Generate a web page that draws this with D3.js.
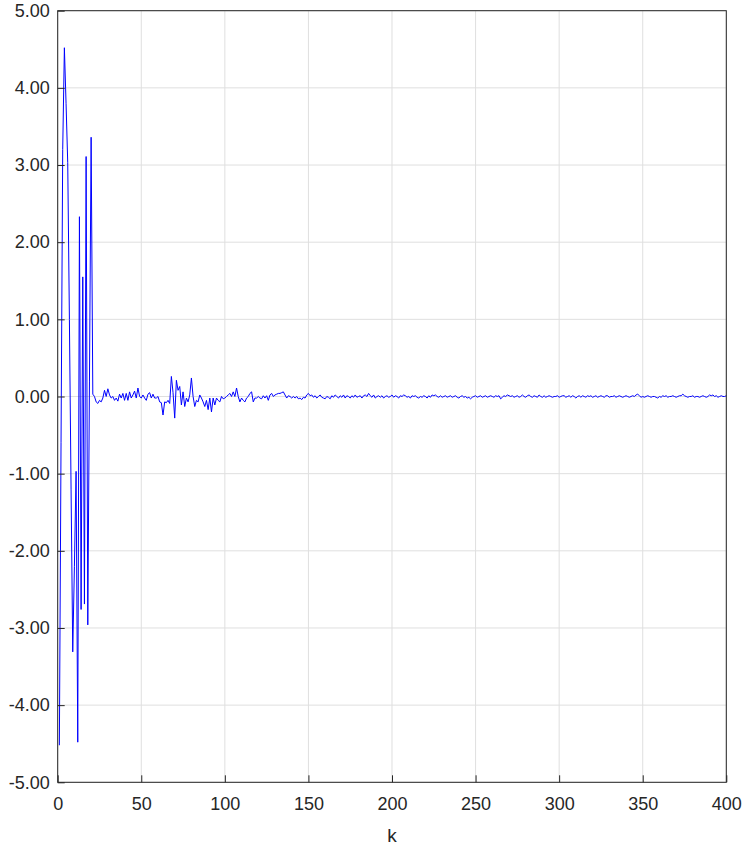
<!DOCTYPE html>
<html>
<head>
    <meta charset="utf-8">
    <title>Error signal</title>
    <script src="https://d3js.org/d3.v7.min.js"></script>
    <style>
        body { margin: 0; background: #fff; }
        .tick text { font-family: "Liberation Sans", Arial, sans-serif; font-size: 18px; fill: #262626; }
        .axis path, .axis line { stroke: #262626; }
        .grid line { stroke: #dfdfdf; stroke-width: 1px; }
        .label { font-family: "Liberation Sans", Arial, sans-serif; font-size: 19px; fill: #262626; }
    </style>
</head>
<body>
    <div id="chart"></div>

    <script>
        // k = 1..21, large start-up oscillations
        const errTransient = [-4.52, -0.60, 3.20, 4.52, 3.80, 3.03, 1.00, -1.20, -3.31, -2.20,
                              -0.97, -4.48, 2.33, -2.76, 1.55, -2.69, 3.11, -2.96, 0.20, 3.36,
                              0.03];
        // k = 22..152, settling
        const errSettling = [0.00, -0.07, -0.09, -0.05, -0.07, -0.02, 0.08, 0.00, 0.10, 0.02,
                             -0.02, 0.00, -0.05, -0.02, -0.06, 0.03, -0.02, 0.04, -0.05, 0.04,
                             -0.05, 0.06, -0.02, 0.02, 0.07, -0.02, 0.11, 0.00, -0.02, 0.02,
                             -0.02, -0.05, 0.03, 0.05, -0.02, 0.03, -0.02, -0.02, 0.00, -0.07,
                             -0.08, -0.24, -0.07, -0.08, -0.05, -0.09, 0.26, 0.05, -0.28, 0.21,
                             0.08, 0.13, -0.11, 0.06, -0.13, -0.02, -0.07, 0.02, 0.24, 0.00,
                             -0.13, -0.05, -0.07, 0.02, -0.02, -0.07, -0.13, -0.05, -0.17, -0.02,
                             -0.20, -0.02, -0.11, -0.02, -0.05, -0.07, 0.00, -0.03, -0.02, 0.00,
                             0.02, 0.04, 0.00, 0.06, 0.00, 0.11, 0.00, -0.07, -0.02, -0.05,
                             -0.07, -0.02, 0.00, 0.04, 0.06, -0.07, -0.02, -0.02, 0.00, -0.02,
                             -0.03, 0.01, -0.02, 0.01, -0.05, 0.02, 0.04, 0.00, 0.02, 0.03,
                             0.04, 0.04, 0.05, 0.06, 0.02, -0.02, 0.01, 0.00, -0.02, 0.00,
                             -0.02, 0.00, -0.03, -0.02, -0.04, -0.01, -0.02, 0.02, 0.04, 0.01,
                             0.02];
        // k = 153..400, steady state
        const errSteady = [-0.01, 0.01, -0.02, 0.00, 0.02, -0.01, -0.02, -0.03, 0.00, -0.01,
                           -0.03, 0.01, -0.01, 0.02, 0.00, -0.02, 0.01, -0.01, 0.02, -0.02,
                           0.01, 0.00, -0.02, 0.01, -0.01, 0.02, -0.01, 0.00, 0.01, -0.02,
                           0.01, 0.02, 0.00, 0.04, 0.01, -0.01, 0.02, -0.02, 0.00, 0.01,
                           -0.01, 0.01, -0.02, 0.00, 0.01, -0.01, 0.00, 0.02, -0.01, 0.01,
                           0.00, -0.02, 0.01, 0.00, 0.02, 0.01, -0.01, 0.00, -0.02, 0.01,
                           0.00, 0.01, -0.01, -0.02, 0.00, -0.01, 0.01, 0.00, -0.02, 0.01,
                           -0.01, 0.02, 0.01, 0.02, 0.00, -0.01, 0.01, -0.01, 0.00, 0.01,
                           -0.01, 0.00, 0.01, -0.01, 0.00, 0.01, -0.01, -0.02, 0.00, 0.01,
                           -0.01, 0.00, -0.02, -0.01, -0.03, -0.01, 0.00, 0.01, -0.01, 0.00,
                           0.01, -0.01, 0.00, 0.01, -0.01, 0.00, 0.01, 0.00, -0.01, 0.01,
                           0.00, 0.01, -0.03, -0.01, 0.01, 0.00, 0.02, 0.01, 0.00, 0.01,
                           -0.01, 0.00, 0.01, -0.01, 0.00, 0.02, 0.00, -0.01, 0.01, 0.02,
                           0.00, -0.01, 0.01, 0.00, -0.01, 0.02, 0.00, -0.01, 0.01, -0.01,
                           0.00, 0.01, 0.00, -0.01, 0.00, 0.00, 0.01, -0.01, 0.00, 0.01,
                           0.01, -0.01, 0.00, 0.01, -0.01, 0.01, 0.00, -0.02, 0.00, 0.01,
                           -0.01, 0.01, 0.00, -0.01, 0.01, 0.00, 0.01, -0.01, 0.00, 0.01,
                           -0.01, 0.00, 0.01, 0.00, -0.01, 0.01, 0.01, -0.01, 0.00, 0.00,
                           0.01, -0.01, 0.00, 0.01, 0.00, -0.01, 0.00, 0.01, 0.00, -0.01,
                           0.00, 0.01, 0.00, 0.02, 0.03, 0.01, -0.01, 0.00, -0.01, 0.00,
                           0.01, 0.00, -0.01, 0.00, 0.00, -0.01, -0.02, 0.00, -0.01, 0.01,
                           0.00, 0.01, -0.01, 0.00, 0.00, 0.01, 0.00, -0.01, 0.00, 0.01,
                           0.01, 0.03, 0.01, 0.00, -0.01, 0.00, 0.00, 0.01, -0.01, 0.00,
                           0.00, -0.01, 0.00, 0.01, 0.00, -0.01, 0.00, 0.02, 0.01, 0.02,
                           0.00, 0.01, -0.01, 0.00, 0.01, 0.00, 0.00, 0.01];

        const xTicks = [0, 50, 100, 150, 200, 250, 300, 350, 400];
        const yTicks = [-5, -4, -3, -2, -1, 0, 1, 2, 3, 4, 5];

        const err = errTransient.concat(errSettling, errSteady);
        const data = err.map((v, i) => ({k: i + 1, v: v}));

        const width = 746, height = 846;
        const margin = {top: 10.7, right: 19.7, bottom: 63.7, left: 57.7};
        const iw = width - margin.left - margin.right;
        const ih = height - margin.top - margin.bottom;

        const svg = d3.select("#chart")
            .append("svg")
            .attr("width", width)
            .attr("height", height);

        const g = svg.append("g")
            .attr("transform", `translate(${margin.left},${margin.top})`);

        const x = d3.scaleLinear().domain([0, 400]).range([0, iw]);
        const y = d3.scaleLinear().domain([-5, 5]).range([ih, 0]);

        // grid
        g.append("g").attr("class", "grid")
            .selectAll("line.v")
            .data(xTicks)
            .join("line")
            .attr("x1", d => x(d)).attr("x2", d => x(d))
            .attr("y1", 0).attr("y2", ih);
        g.append("g").attr("class", "grid")
            .selectAll("line.h")
            .data(yTicks)
            .join("line")
            .attr("x1", 0).attr("x2", iw)
            .attr("y1", d => y(d)).attr("y2", d => y(d));

        // signal
        const line = d3.line().x(d => x(d.k)).y(d => y(d.v));
        g.append("path")
            .datum(data)
            .attr("fill", "none")
            .attr("stroke", "#0000ff")
            .attr("stroke-width", 1)
            .attr("stroke-linejoin", "round")
            .attr("d", line);

        // box
        g.append("rect")
            .attr("width", iw).attr("height", ih)
            .attr("fill", "none")
            .attr("stroke", "#262626")
            .attr("stroke-width", 1);

        // axes with inward ticks
        g.append("g").attr("class", "axis")
            .attr("transform", `translate(0,${ih})`)
            .call(d3.axisBottom(x).tickValues(xTicks).tickSize(-7).tickPadding(15).tickFormat(d => String(d)))
            .call(a => a.select(".domain").remove());

        g.append("g").attr("class", "axis")
            .call(d3.axisLeft(y).tickValues(yTicks).tickSize(-7).tickPadding(8).tickFormat(d => d.toFixed(2)))
            .call(a => a.select(".domain").remove());

        svg.selectAll(".tick text").attr("font-family", null).attr("font-size", null);

        g.append("text")
            .attr("class", "label")
            .attr("x", iw / 2)
            .attr("y", ih + 60)
            .attr("text-anchor", "middle")
            .text("k");
    </script>
</body>
</html>
